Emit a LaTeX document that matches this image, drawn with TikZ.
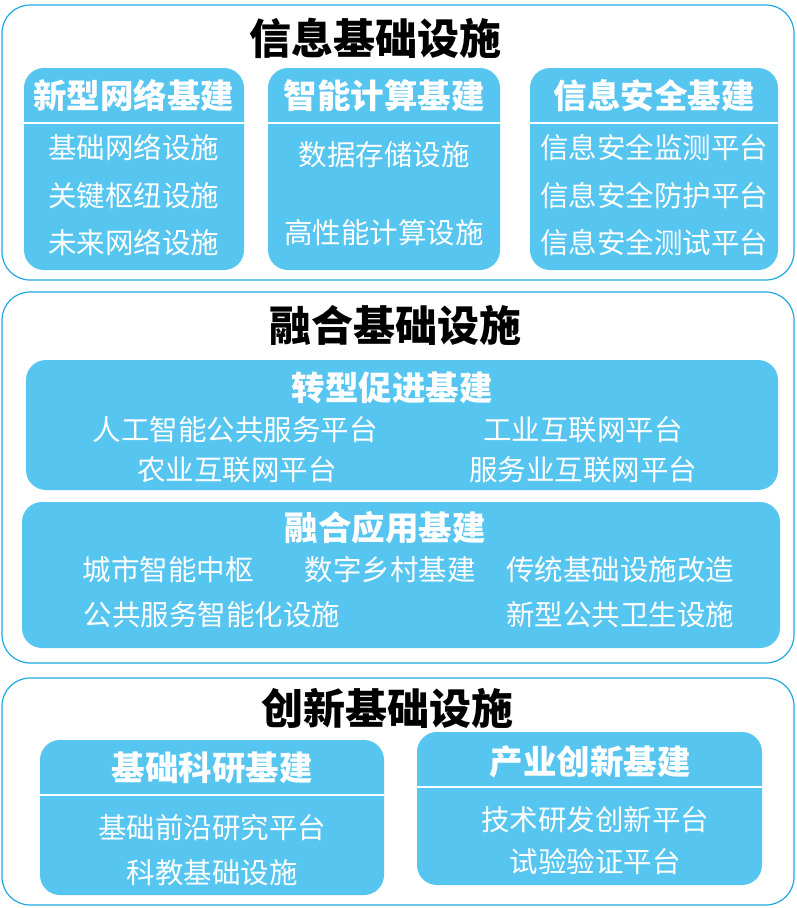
\documentclass[tikz,border=0pt]{standalone}
\usepackage{fontspec}
\setmainfont{Noto Sans CJK SC}
\definecolor{skyfill}{HTML}{56C5F0}
\definecolor{skyline}{HTML}{1EA7E1}
\tikzset{
  outerbox/.style={draw=skyline, line width=1.2pt, fill=white, rounded corners=28pt},
  innerbox/.style={fill=skyfill, rounded corners=20pt},
  bigtitle/.style={font=\fontsize{42}{46}\selectfont\bfseries, text=black},
  subtitle/.style={font=\fontsize{33.5}{37}\selectfont\bfseries, text=white},
  item/.style={font=\fontsize{28.5}{32}\selectfont, text=white},
  sepline/.style={draw=white, line width=2pt}
}
\begin{document}
\begin{tikzpicture}[x=1pt,y=-1pt]
\useasboundingbox (0,0) rectangle (796,908);
% information
\draw [outerbox] (2,5) rectangle (794,280);
\node [bigtitle] (info) at (375,38) {信息基础设施};
\fill [innerbox] (24,68) rectangle (244,270);
\fill [innerbox] (268,68) rectangle (500,270);
\fill [innerbox] (530,68) rectangle (778,270);
\foreach \a/\b in {24/244, 268/500, 530/778} {%
    \draw [sepline] (\a,123) -- (\b,123);
}
\node [subtitle] (net) at (134,96) {新型网络基建};
\node [subtitle] (comp) at (384,96) {智能计算基建};
\node [subtitle] (sec) at (654,96) {信息安全基建};
\node [item] (net1) at (134,148) {基础网络设施};
\node [item] (net2) at (134,196) {关键枢纽设施};
\node [item] (net3) at (134,243) {未来网络设施};
\node [item] (comp1) at (384,155) {数据存储设施};
\node [item] (comp2) at (384,233) {高性能计算设施};
\node [item] (sec1) at (654,148) {信息安全监测平台};
\node [item] (sec2) at (654,196) {信息安全防护平台};
\node [item] (sec3) at (654,243) {信息安全测试平台};
% fusion
\draw [outerbox] (2,292) rectangle (794,663);
\node [bigtitle] (fusion) at (395,325) {融合基础设施};
\fill [innerbox] (26,360) rectangle (778,490);
\fill [innerbox] (22,502) rectangle (780,648);
\node [subtitle] (trans) at (392,388) {转型促进基建};
\node [item] (trans1) at (235,430) {人工智能公共服务平台};
\node [item] (trans2) at (583,430) {工业互联网平台};
\node [item] (trans3) at (237,470) {农业互联网平台};
\node [item] (trans4) at (583,470) {服务业互联网平台};
\node [subtitle] (app) at (385,528) {融合应用基建};
\node [item] (app1) at (168,570) {城市智能中枢};
\node [item] (app2) at (390,570) {数字乡村基建};
\node [item] (app3) at (620,570) {传统基础设施改造};
\node [item] (app4) at (212,615) {公共服务智能化设施};
\node [item] (app5) at (620,615) {新型公共卫生设施};
% innovation
\draw [outerbox] (2,678) rectangle (794,905);
\node [bigtitle] (innov) at (387,708) {创新基础设施};
\fill [innerbox] (40,740) rectangle (384,895);
\fill [innerbox] (417,732) rectangle (762,885);
\draw [sepline] (40,795) -- (384,795);
\draw [sepline] (417,787) -- (762,787);
\node [subtitle] (sci) at (212,768) {基础科研基建};
\node [subtitle] (ind) at (590,762) {产业创新基建};
\node [item] (sci1) at (212,828) {基础前沿研究平台};
\node [item] (sci2) at (212,873) {科教基础设施};
\node [item] (ind1) at (595,820) {技术研发创新平台};
\node [item] (ind2) at (595,862) {试验验证平台};
\end{tikzpicture}
\end{document}
